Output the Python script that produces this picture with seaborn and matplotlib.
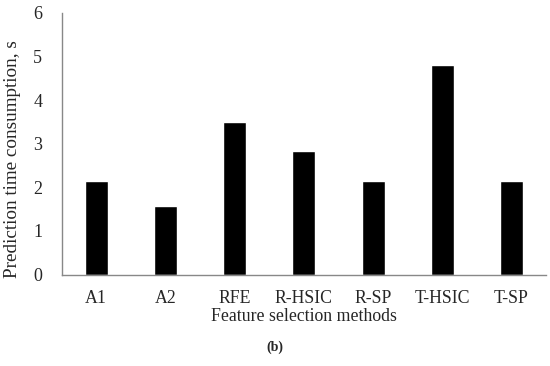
import matplotlib
matplotlib.use("Agg")
import matplotlib.pyplot as plt
import pandas as pd
import seaborn as sns

methods = ["A1", "A2", "RFE", "R-HSIC", "R-SP", "T-HSIC", "T-SP"]
times = [2.15, 1.57, 3.50, 2.83, 2.15, 4.81, 2.15]

data = pd.DataFrame({"method": methods, "time": times})

sns.set_style("white")
plt.rcParams["font.family"] = ["Liberation Serif", "DejaVu Serif"]

fig = plt.figure(figsize=(5.5, 3.66), dpi=100)
ax = fig.add_axes([0.112, 0.25, 0.881, 0.715])

sns.barplot(data=data, x="method", y="time", color="black", width=0.33,
            saturation=1, ax=ax)

ax.set_xlim(-0.5, 6.5)
ax.set_ylim(0, 6)
ax.set_yticks(range(0, 7))
ax.set_ylabel("Prediction time consumption, s", fontsize=13.8)
ax.yaxis.set_label_coords(-0.083, 0.44)
ax.set_xlabel("Feature selection methods", fontsize=12.8, labelpad=1)
ax.tick_params(axis="y", direction="in", length=3, color="#888888",
               labelsize=13, pad=14)
ax.tick_params(axis="x", length=0, labelsize=12.8, pad=11)

for side in ["top", "right"]:
    ax.spines[side].set_visible(False)
for side in ["left", "bottom"]:
    ax.spines[side].set_color("#888888")
    ax.spines[side].set_linewidth(1.0)

fig.text(0.5, 0.052, "(b)", ha="center", va="center", fontsize=10,
         fontweight="bold")

fig.savefig("out.png", dpi=100)
